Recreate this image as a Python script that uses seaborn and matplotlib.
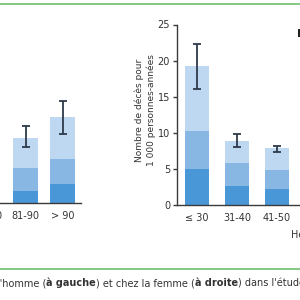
import matplotlib
matplotlib.use("Agg")
import matplotlib.pyplot as plt
import seaborn as sns
import numpy as np
import pandas as pd
from matplotlib.lines import Line2D

sns.set_style("white")
plt.rcParams['font.family'] = ['DejaVu Sans']

# ---- data ----
# Women (right panel), visible categories
cats_f = ["≤ 30", "31-40", "41-50"]
dark_f = [5.0, 2.6, 2.2]
mid_f = [5.3, 3.2, 2.7]
light_f = [9.0, 3.1, 3.0]
err_lo_f = [16.0, 8.1, 7.3]
err_hi_f = [22.3, 9.9, 8.15]

# Men (left panel), visible categories
cats_m = ["71-80", "81-90", "> 90"]
bars_m = ["81-90", "> 90"]
dark_m = [1.7, 2.7]
mid_m = [3.15, 3.45]
light_m = [4.2, 5.75]
err_lo_m = [7.8, 9.6]
err_hi_m = [10.6, 14.1]

yticks = [0, 5, 10, 15, 20, 25]
ylabel = "Nombre de décès pour\n1 000 personnes-années"
caption = [("l'homme (", "normal"), ("à gauche", "bold"), (") et chez la femme (", "normal"),
           ("à droite", "bold"), (") dans l'étude", "normal")]

C_DARK = "#4a97d8"
C_MID = "#88b7e4"
C_LIGHT = "#bfd8f2"
C_ERR = "#2e3a4a"
C_AX = "#3a3a3a"
C_TXT = "#333333"
C_GREEN = "#6cbf6c"

W, H = 300, 300
fig = plt.figure(figsize=(3, 3), dpi=100)


def px_axes(left, top, bottom, width):
    return fig.add_axes([left / W, (H - bottom) / H, width / W, (bottom - top) / H])


def draw_panel(ax, order, cats, dark, mid, light, lo, hi, width, ncat):
    tot_mid = [d + m for d, m in zip(dark, mid)]
    tot = [t + l for t, l in zip(tot_mid, light)]
    for vals, col in [(tot, C_LIGHT), (tot_mid, C_MID), (dark, C_DARK)]:
        df = pd.DataFrame({"cat": cats, "val": vals})
        sns.barplot(data=df, x="cat", y="val", order=order, color=col,
                    width=width, errorbar=None, saturation=1, ax=ax,
                    edgecolor="none", linewidth=0)
    xs = [order.index(c) for c in cats]
    lo_arr = np.array(tot) - np.array(lo)
    hi_arr = np.array(hi) - np.array(tot)
    ax.errorbar(xs, tot, yerr=[lo_arr, hi_arr], fmt="none", ecolor=C_ERR,
                elinewidth=1.3, capsize=3, capthick=1.3, zorder=5)
    ax.set_xlim(-0.5, ncat - 0.5)
    ax.set_ylim(0, 25)
    ax.set_xlabel("")
    ax.set_ylabel("")
    ax.set_xticks(range(len(order)))
    ax.set_xticklabels(order, fontsize=7, color=C_TXT)
    ax.set_xticks(np.arange(-0.5, ncat, 1.0), minor=True)
    ax.tick_params(axis="x", which="major", length=0, pad=6)
    ax.tick_params(axis="x", which="minor", length=3, width=1, color=C_AX, direction="out")
    for s in ["top", "right"]:
        ax.spines[s].set_visible(False)
    for s in ["left", "bottom"]:
        ax.spines[s].set_color(C_AX)
        ax.spines[s].set_linewidth(1.0)
    ax.set_facecolor("none")


# right panel (women)
ax_r = px_axes(177, 24.5, 205, 200)
draw_panel(ax_r, cats_f, cats_f, dark_f, mid_f, light_f, err_lo_f, err_hi_f, 0.6, 5)
ax_r.set_yticks(yticks)
ax_r.set_yticklabels([str(t) for t in yticks], fontsize=7, color=C_TXT)
ax_r.tick_params(axis="y", length=3, width=1, color=C_AX, direction="out", pad=2, left=True)

# left panel (men)
ax_l = px_axes(-30, 22.5, 203, 111)
draw_panel(ax_l, cats_m, bars_m, dark_m, mid_m, light_m, err_lo_m, err_hi_m, 0.65, 3)
ax_l.set_yticks([])
ax_l.spines["left"].set_visible(False)

# y label
fig.text(145 / W, 1 - 110 / H, ylabel, rotation=90, ha="center", va="center",
         fontsize=6.5, color=C_TXT, multialignment="center", linespacing=1.3)

# x label (cut) and panel label (cut)
fig.text(291 / W, 1 - 235 / H, "Heures", fontsize=7, color=C_TXT, va="center", ha="left")
fig.text(297 / W, 1 - 34 / H, "B", fontsize=8, color="#222222", fontweight="bold", va="center", ha="left")

# green rules
fig.add_artist(Line2D([0, 1], [1 - 3.5 / H, 1 - 3.5 / H], color=C_GREEN, lw=1.2, transform=fig.transFigure))
fig.add_artist(Line2D([0, 1], [1 - 269 / H, 1 - 269 / H], color=C_GREEN, lw=1.2, transform=fig.transFigure))

# caption with bold parts
cur = fig.text(-3 / W, 1 - 283 / H, caption[0][0], fontsize=7, color=C_TXT,
               fontweight=caption[0][1], va="center", ha="left")
for txt, wt in caption[1:]:
    cur = ax_l.annotate(txt, xy=(1, 0), xycoords=cur, va="bottom", ha="left",
                        fontsize=7, color=C_TXT, fontweight=wt, annotation_clip=False)

fig.savefig("out.png", dpi=100)
